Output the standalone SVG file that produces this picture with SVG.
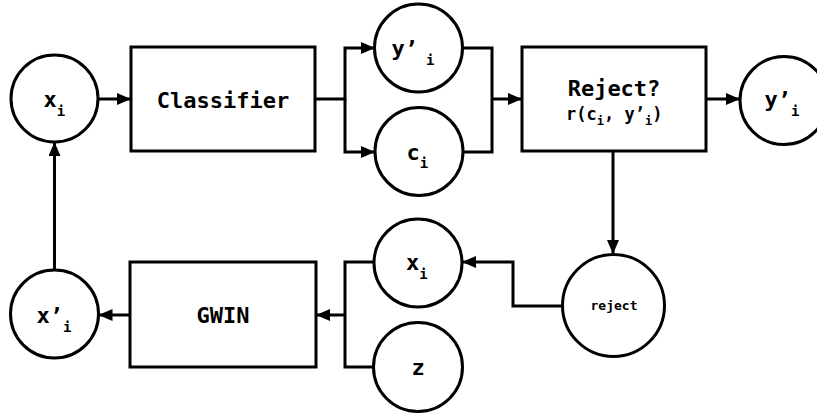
<svg xmlns="http://www.w3.org/2000/svg" width="817" height="417" viewBox="0 0 817 417">
  <style>
    .shape { fill: #ffffff; stroke: #000000; stroke-width: 3; }
    .wire { fill: none; stroke: #000000; stroke-width: 3; stroke-linejoin: miter; }
    .lbl { font-family: "DejaVu Sans Mono", "Liberation Mono", monospace; font-weight: bold; fill: #000000; }
    .big { font-size: 22px; }
    .sub { font-size: 14px; }
    .mid { font-size: 17px; }
    .msub { font-size: 12px; }
    .tiny { font-size: 13px; }
  </style>
  <defs>
    <marker id="arrow" viewBox="0 0 14 12" refX="14" refY="6" markerWidth="14" markerHeight="12" markerUnits="userSpaceOnUse" orient="auto">
      <path d="M0,0 L14,6 L0,12 Z" fill="#000000"/>
    </marker>
  </defs>

  <rect width="817" height="417" fill="#ffffff"/>

  <!-- connectors -->
  <g id="connectors">
    <path class="wire" d="M98,99 H131" marker-end="url(#arrow)"/>
    <path class="wire" d="M315,99 H345 V48 H375" marker-end="url(#arrow)"/>
    <path class="wire" d="M345,99 V152 H375" marker-end="url(#arrow)"/>
    <path class="wire" d="M462,48 H492 V152 H462"/>
    <path class="wire" d="M492,99 H522" marker-end="url(#arrow)"/>
    <path class="wire" d="M706,99 H740" marker-end="url(#arrow)"/>
    <path class="wire" d="M613,151 V254" marker-end="url(#arrow)"/>
    <path class="wire" d="M562,306 H513 V262 H462" marker-end="url(#arrow)"/>
    <path class="wire" d="M374,262 H345 V367 H374"/>
    <path class="wire" d="M345,315 H316" marker-end="url(#arrow)"/>
    <path class="wire" d="M130,315 H98.5" marker-end="url(#arrow)"/>
    <path class="wire" d="M54.5,270 V142" marker-end="url(#arrow)"/>
  </g>

  <!-- input sample -->
  <g id="node-xi">
    <circle class="shape" cx="54.5" cy="98.5" r="43.5"/>
    <text class="lbl big" x="43.5" y="107">x<tspan class="sub" dy="9">i</tspan></text>
  </g>

  <g id="node-classifier">
    <rect class="shape" x="131" y="47" width="184" height="104"/>
    <text class="lbl big" x="223" y="108" text-anchor="middle">Classifier</text>
  </g>

  <g id="node-ypred">
    <circle class="shape" cx="418.5" cy="48" r="44"/>
    <text class="lbl big" x="391.5" y="56">y’<tspan class="sub" dx="8" dy="9">i</tspan></text>
  </g>

  <g id="node-ci">
    <circle class="shape" cx="419" cy="151.5" r="44"/>
    <text class="lbl big" x="406.5" y="160">c<tspan class="sub" dy="8">i</tspan></text>
  </g>

  <g id="node-reject-box">
    <rect class="shape" x="522" y="47" width="184" height="104"/>
    <text class="lbl big" x="614" y="96" text-anchor="middle">Reject?</text>
    <text class="lbl mid" x="566" y="120">r(c<tspan class="msub" dy="5">i</tspan><tspan dy="-5">, y’</tspan><tspan class="msub" dy="5">i</tspan><tspan dy="-5">)</tspan></text>
  </g>

  <g id="node-yout">
    <circle class="shape" cx="784" cy="100.5" r="44"/>
    <text class="lbl big" x="764.5" y="107">y’<tspan class="sub" dy="9">i</tspan></text>
  </g>

  <g id="node-reject">
    <circle class="shape" cx="613.5" cy="305.5" r="51"/>
    <text class="lbl tiny" x="614" y="310" text-anchor="middle">reject</text>
  </g>

  <g id="node-xi-low">
    <circle class="shape" cx="418" cy="263" r="44"/>
    <text class="lbl big" x="406" y="270">x<tspan class="sub" dy="9">i</tspan></text>
  </g>

  <g id="node-z">
    <circle class="shape" cx="418" cy="367" r="44.5"/>
    <text class="lbl big" x="418" y="375" text-anchor="middle">z</text>
  </g>

  <g id="node-gwin">
    <rect class="shape" x="130" y="262" width="186" height="105"/>
    <text class="lbl big" x="223" y="323" text-anchor="middle">GWIN</text>
  </g>

  <g id="node-xprime">
    <circle class="shape" cx="54.5" cy="314" r="44"/>
    <text class="lbl big" x="36.5" y="323">x’<tspan class="sub" dy="9">i</tspan></text>
  </g>
</svg>
